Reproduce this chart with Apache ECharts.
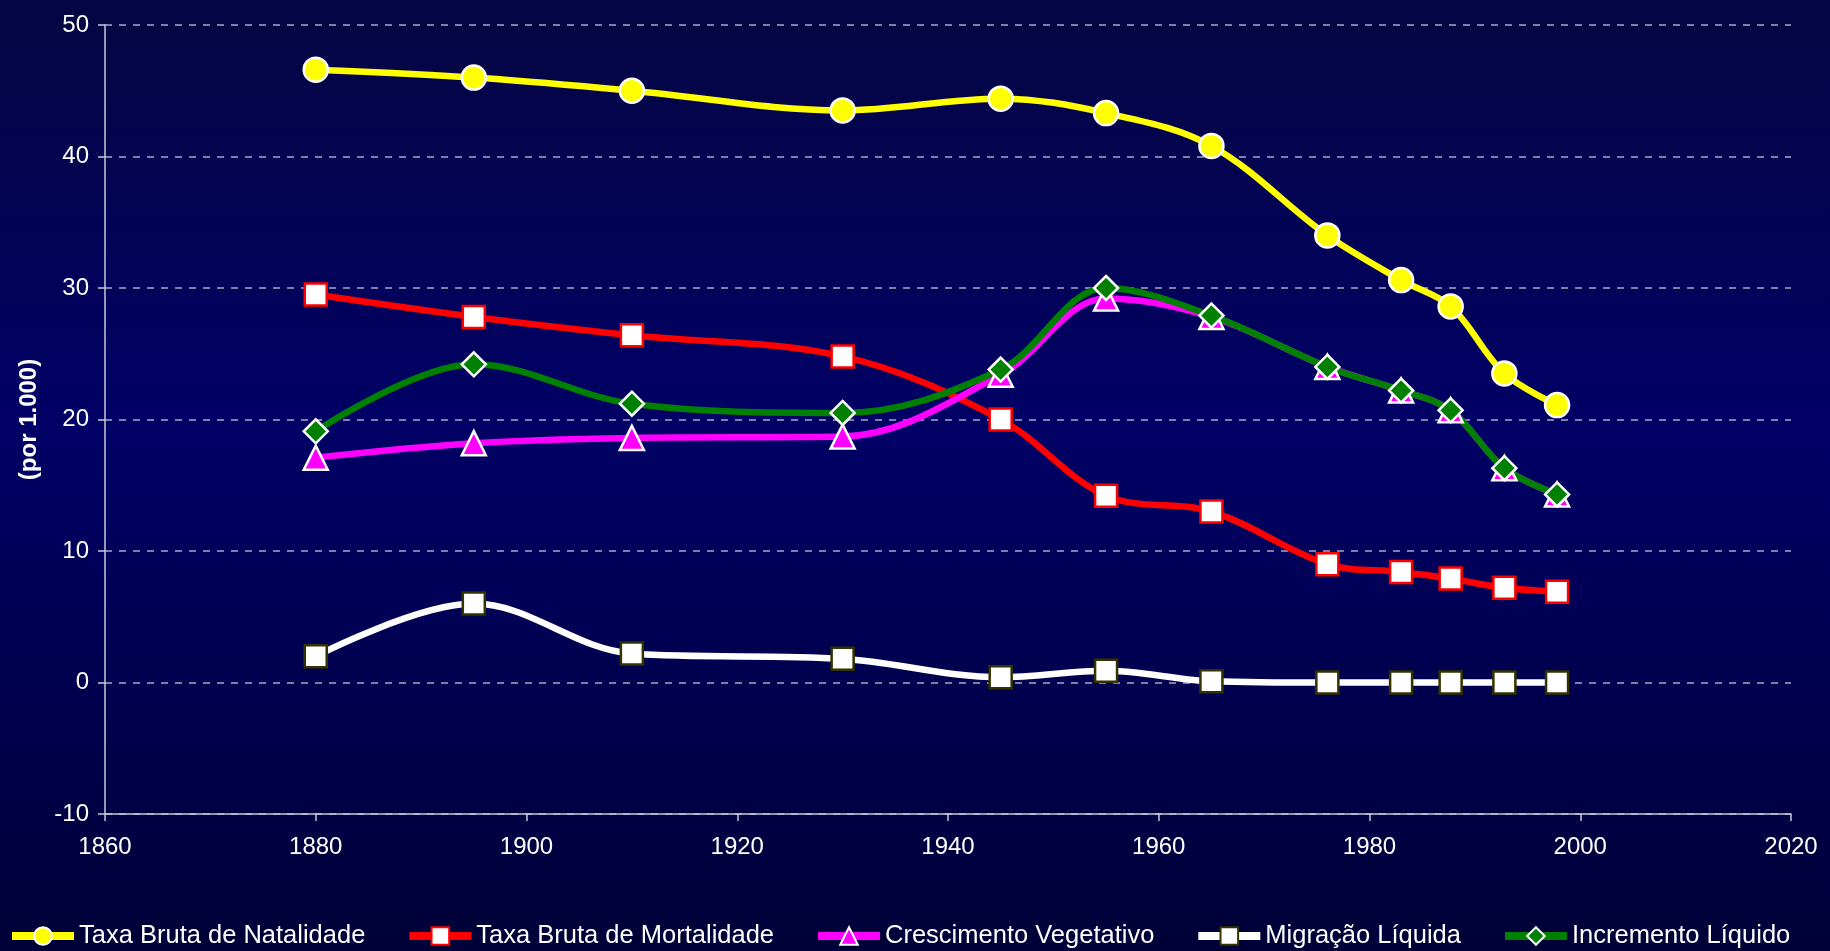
<!DOCTYPE html>
<html>
<head>
<meta charset="utf-8">
<script src="https://cdn.jsdelivr.net/npm/echarts@6/dist/echarts.min.js"></script>
<style>
html,body{margin:0;padding:0;width:1830px;height:951px;overflow:hidden;}
#c{width:1830px;height:951px;}
</style>
</head>
<body>
<div id="c"></div>
<script>
const years = [1880, 1895, 1910, 1930, 1945, 1955, 1965, 1976, 1983, 1987.7, 1992.8, 1997.8];
const natalidade = [46.6, 46.0, 45.0, 43.5, 44.4, 43.3, 40.8, 34.0, 30.6, 28.6, 23.5, 21.1];
const mortalidade = [29.5, 27.8, 26.4, 24.8, 20.0, 14.2, 13.0, 9.0, 8.4, 7.9, 7.2, 6.9];
const vegetativo = [17.1, 18.2, 18.6, 18.7, 23.4, 29.2, 27.8, 24.0, 22.2, 20.7, 16.3, 14.3];
const migracao = [2.0, 6.0, 2.2, 1.8, 0.4, 0.9, 0.1, 0, 0, 0, 0, 0];
const incremento = [19.1, 24.2, 21.2, 20.5, 23.8, 30.0, 27.9, 24.0, 22.2, 20.7, 16.3, 14.3];
const seriesNames = ['Taxa Bruta de Natalidade', 'Taxa Bruta de Mortalidade', 'Crescimento Vegetativo', 'Migração Líquida', 'Incremento Líquido'];
const yTitle = '(por 1.000)';

const FONT = '"Liberation Sans", Arial, Helvetica, sans-serif';
const pair = arr => years.map((y, i) => [y, arr[i]]);

function mk(name, data, color, symbol, size, fill, border, bw) {
  return {
    name: name, type: 'line', data: pair(data), smooth: 0.35,
    symbol: symbol, symbolSize: size,
    lineStyle: { color: color, width: 6.5 },
    itemStyle: { color: fill, borderColor: border, borderWidth: bw },
    emphasis: { disabled: true }
  };
}

const chart = echarts.init(document.getElementById('c'));
chart.setOption({
  animation: false,
  backgroundColor: {
    type: 'linear', x: 0, y: 0, x2: 0, y2: 1,
    colorStops: [
      { offset: 0, color: '#050542' },
      { offset: 0.45, color: '#000066' },
      { offset: 1, color: '#000038' }
    ]
  },
  grid: { left: 105, right: 39, top: 25, bottom: 137, containLabel: false },
  xAxis: {
    type: 'value', min: 1860, max: 2020, interval: 20,
    axisLine: { show: true, onZero: false, lineStyle: { color: '#c8c8d8', width: 1.5 } },
    axisTick: { show: true, length: 7, lineStyle: { color: '#c8c8d8', width: 1.5 } },
    axisLabel: { color: '#ffffff', fontSize: 24, fontFamily: FONT, margin: 21, formatter: v => String(v) },
    splitLine: { show: false }
  },
  yAxis: {
    type: 'value', min: -10, max: 50, interval: 10,
    name: yTitle, nameLocation: 'middle', nameGap: 64, nameRotate: 90,
    nameTextStyle: { color: '#ffffff', fontSize: 24, fontWeight: 'bold', fontFamily: FONT },
    axisLine: { show: true, onZero: false, lineStyle: { color: '#c8c8d8', width: 1.5 } },
    axisTick: { show: true, length: 7, lineStyle: { color: '#c8c8d8', width: 1.5 } },
    axisLabel: { color: '#ffffff', fontSize: 24, fontFamily: FONT, margin: 16, formatter: v => String(v) },
    splitLine: { show: true, lineStyle: { color: '#a8a8c8', width: 1.5, type: [7, 7] } }
  },
  legend: {
    left: 3, top: 918, padding: 5, itemGap: 40, itemWidth: 62, itemHeight: 22,
    lineStyle: { width: 8 },
    textStyle: { color: '#ffffff', fontSize: 25.5, fontFamily: FONT },
    data: seriesNames
  },
  series: [
    mk(seriesNames[0], natalidade, '#ffff00', 'circle', 24, '#ffff00', '#ffffff', 2.5),
    mk(seriesNames[1], mortalidade, '#ff0000', 'rect', 22, '#ffffff', '#ff0000', 2.5),
    mk(seriesNames[2], vegetativo, '#ff00ff', 'triangle', 24, '#ff00ff', '#ffffff', 2.5),
    mk(seriesNames[3], migracao, '#ffffff', 'rect', 22, '#ffffff', '#333300', 2.5),
    mk(seriesNames[4], incremento, '#008000', 'diamond', 24, '#008000', '#ffffff', 2.5)
  ]
});
</script>
</body>
</html>
